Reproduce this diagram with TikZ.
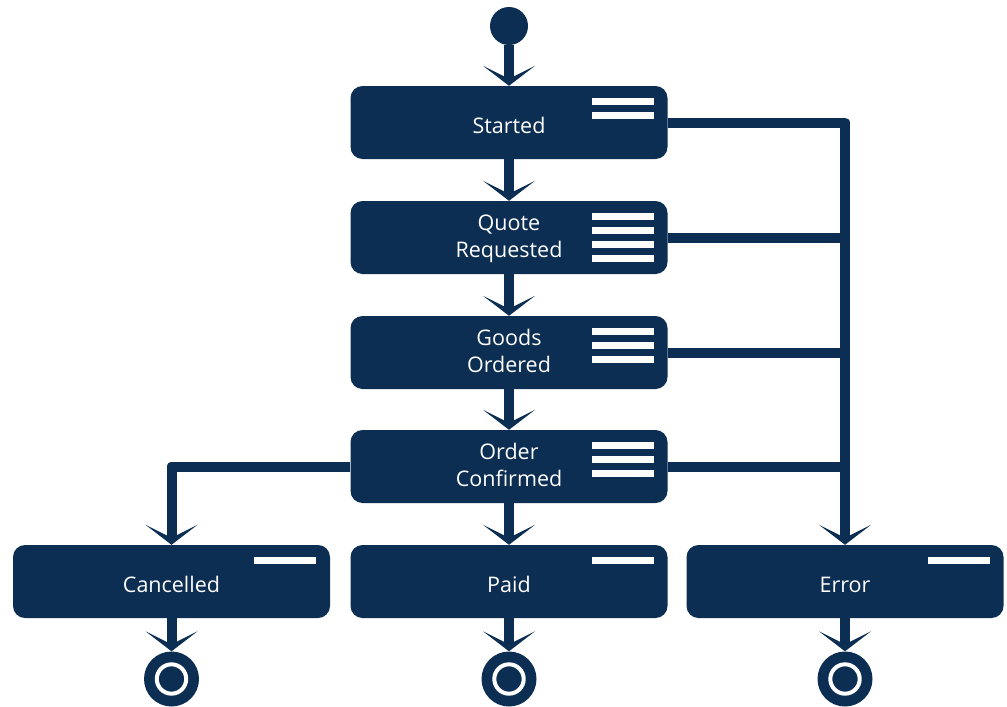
\documentclass[tikz,border=0pt]{standalone}
\usepackage{fontspec}
\newfontfamily\labelfont{Open Sans}
\usetikzlibrary{arrows.meta}
\definecolor{navy}{RGB}{12,46,82}
\begin{document}
\begin{tikzpicture}[x=1pt,y=-1pt,
  state/.style={rectangle, rounded corners=12pt, fill=navy, text=white,
    minimum width=317pt, minimum height=73pt, inner sep=0pt, align=center,
    font=\labelfont\fontsize{21.5}{27}\selectfont},
  oneline/.style={text height=21pt, text depth=0pt},
  twoline/.style={text height=42.5pt, text depth=2pt},
  startstate/.style={circle, fill=navy, minimum size=38pt, inner sep=0pt},
  endstate/.style={circle, fill=navy, minimum size=55pt, inner sep=0pt,
    path picture={\draw[white, line width=4pt] (path picture bounding box.center) circle (14.7pt);}},
  link/.style={draw=navy, line width=10pt, line join=round},
  flow/.style={link, -{Stealth[length=20pt, width=52pt, inset=13pt, line width=0pt]}}
]
\useasboundingbox (0,0) rectangle (1007,707);

% states
\node[startstate] (start) at (509,26) {};
\node[state, oneline] (started)   at (509,122.5) {Started};
\node[state, twoline] (quote)     at (509,237.5) {Quote\\Requested};
\node[state, twoline] (goods)     at (509,352.5) {Goods\\Ordered};
\node[state, twoline] (confirmed) at (509,466.5) {Order\\Confirmed};
\node[state, oneline] (cancelled) at (171.5,581.5) {Cancelled};
\node[state, oneline] (paid)      at (509,581.5) {Paid};
\node[state, oneline] (error)     at (845,581.5) {Error};
\node[endstate] (endc) at (171.5,679) {};
\node[endstate] (endp) at (509,679) {};
\node[endstate] (ende) at (845,679) {};

% compartment bars in the upper right of each state
\foreach \s/\n in {started/2, quote/4, goods/3, confirmed/3, cancelled/1, paid/1, error/1}{
  \foreach \i in {1,...,\n}{
    \fill[white] ([xshift=-14pt, yshift={-12.5pt-(\i-1)*14pt}]\s.north east)
      rectangle ++(-62pt,-6.5pt);
  }
}

% main flow
\draw[flow] (start) -- (started);
\draw[flow] (started) -- (quote);
\draw[flow] (quote) -- (goods);
\draw[flow] (goods) -- (confirmed);
\draw[flow] (confirmed) -- (paid);
\draw[flow] (confirmed.west) -| (cancelled.north);

% error transitions
\draw[flow] (started.east) -| (error.north);
\draw[link] (quote.east) -- (quote.east -| error.north);
\draw[link] (goods.east) -- (goods.east -| error.north);
\draw[link] (confirmed.east) -- (confirmed.east -| error.north);

% final states
\draw[flow] (cancelled) -- (endc);
\draw[flow] (paid) -- (endp);
\draw[flow] (error) -- (ende);
\end{tikzpicture}
\end{document}
